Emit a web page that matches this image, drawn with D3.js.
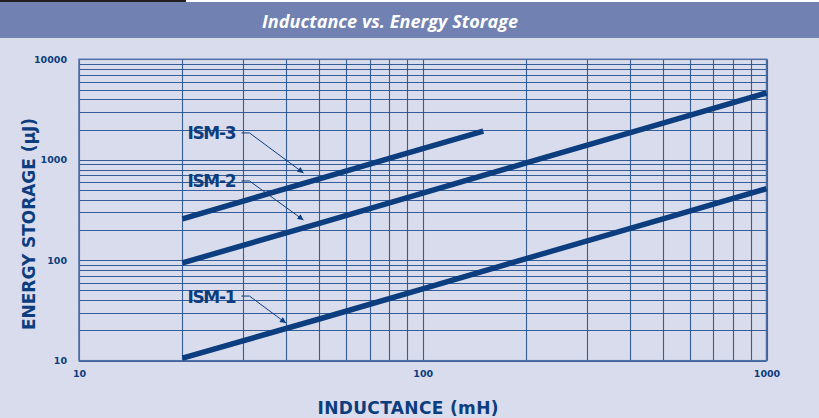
<!DOCTYPE html>
<html><head><meta charset="utf-8">
<script src="https://cdn.jsdelivr.net/npm/d3@7"></script>
<style>html,body{margin:0;padding:0;background:#d9dcec;}svg{display:block;}</style>
</head><body>
<svg id="chart" width="819" height="418"></svg>
<script>
const title = "Inductance vs. Energy Storage";
const xTitle = "INDUCTANCE (mH)";
const yTitle = "ENERGY STORAGE (\u03bcJ)";
const xTicks = [10, 100, 1000];
const yTicks = [10, 100, 1000, 10000];
const seriesNames = ["ISM-1", "ISM-2", "ISM-3"];
const ism1 = [[20, 10.6], [50, 26], [100, 52], [200, 104], [500, 258], [1000, 515]];
const ism2 = [[20, 94], [50, 233], [100, 465], [200, 930], [500, 2320], [1000, 4620]];
const ism3 = [[20, 258], [50, 645], [100, 1290], [150, 1930]];
const labelPos = [[20, 44], [20, 615], [20, 1850]]; // label anchor (data coords) per series
const arrowTip = [[40, 23.7], [45, 251], [45, 738]];

const svg = d3.select("#chart");
const W = 819, H = 418;
const navy = "#0c3d7e", grid = "#24508e";

svg.append("rect").attr("width", W).attr("height", H).attr("fill", "#d9dcec");
svg.append("rect").attr("x", 0).attr("y", 0).attr("width", W).attr("height", 2).attr("fill", "#ffffff");
svg.append("rect").attr("x", 0).attr("y", 0).attr("width", 186).attr("height", 2).attr("fill", "#231f20");
svg.append("rect").attr("x", 0).attr("y", 2).attr("width", W).attr("height", 36).attr("fill", "#7182b2");
svg.append("text").attr("x", 390).attr("y", 28).attr("text-anchor", "middle")
  .attr("fill", "#ffffff").attr("font-family", "Open Sans, DejaVu Sans, sans-serif")
  .attr("font-weight", "bold").attr("font-style", "italic").attr("font-size", 18)
  .attr("textLength", 256).text(title);

const x = d3.scaleLog().domain([10, 1000]).range([79, 766.5]);
const y = d3.scaleLog().domain([10, 10000]).range([360.7, 59.3]);

const g = svg.append("g");
// grid
const xGrid = [], yGrid = [];
for (let d = 10; d < 1000; d *= 10) for (let k = 1; k <= 10; k++) xGrid.push(d * k);
for (let d = 10; d < 10000; d *= 10) for (let k = 1; k <= 10; k++) yGrid.push(d * k);
const xg = Array.from(new Set(xGrid));
const yg = Array.from(new Set(yGrid));
g.selectAll(".hg").data(yg).join("line")
  .attr("x1", x(10)).attr("x2", x(1000))
  .attr("y1", d => Math.round(y(d)) + 0.5).attr("y2", d => Math.round(y(d)) + 0.5)
  .attr("stroke", grid).attr("stroke-width", 1.1).attr("opacity", 0.9);
g.selectAll(".vg").data(xg).join("line")
  .attr("y1", y(10)).attr("y2", y(10000))
  .attr("x1", d => Math.round(x(d)) + 0.5).attr("x2", d => Math.round(x(d)) + 0.5)
  .attr("stroke", grid).attr("stroke-width", 1.1).attr("opacity", 0.9);
g.append("rect").attr("x", x(10)).attr("y", y(10000)).attr("width", x(1000) - x(10))
  .attr("height", y(10) - y(10000)).attr("fill", "none").attr("stroke", "#4d6fa6").attr("stroke-width", 1.5);

// axes tick labels
const yAxis = d3.axisLeft(y).tickValues(yTicks).tickFormat(d3.format("d")).tickSize(0).tickPadding(12);
const ya = svg.append("g").attr("transform", `translate(${x(10)},0)`).call(yAxis);
ya.select(".domain").remove();
ya.selectAll("text").attr("fill", navy).attr("font-family", "DejaVu Sans, sans-serif")
  .attr("font-weight", "bold").attr("font-size", 9.5);
const xAxis = d3.axisBottom(x).tickValues(xTicks).tickFormat(d3.format("d")).tickSize(0).tickPadding(10);
const xa = svg.append("g").attr("transform", `translate(0,${y(10)})`).call(xAxis);
xa.select(".domain").remove();
xa.selectAll("text").attr("fill", navy).attr("font-family", "DejaVu Sans, sans-serif")
  .attr("font-weight", "bold").attr("font-size", 9.5);

// axis titles
svg.append("text").attr("x", 408).attr("y", 414).attr("text-anchor", "middle")
  .attr("fill", navy).attr("font-family", "DejaVu Sans, sans-serif").attr("font-weight", "bold")
  .attr("font-size", 17).attr("textLength", 181).text(xTitle);
svg.append("text").attr("transform", "translate(35,224) rotate(-90)").attr("text-anchor", "middle")
  .attr("fill", navy).attr("font-family", "DejaVu Sans, sans-serif").attr("font-weight", "bold")
  .attr("font-size", 17).attr("textLength", 212).text(yTitle);

// series
const line = d3.line().x(d => x(d[0])).y(d => y(d[1]));
[ism1, ism2, ism3].forEach(s => {
  svg.append("path").attr("d", line(s)).attr("fill", "none").attr("stroke", navy)
    .attr("stroke-width", 5.5).attr("stroke-linecap", "butt");
});

// labels with leaders
svg.append("defs").append("marker").attr("id", "ah").attr("viewBox", "0 0 10 10")
  .attr("refX", 10).attr("refY", 5).attr("markerWidth", 9).attr("markerHeight", 6)
  .attr("markerUnits", "userSpaceOnUse").attr("orient", "auto")
  .append("path").attr("d", "M0,0 L10,5 L0,10 Z").attr("fill", navy);
seriesNames.forEach((nm, i) => {
  const lx = x(labelPos[i][0]) + 5, ly = y(labelPos[i][1]);
  svg.append("text").attr("x", lx).attr("y", ly + 6.5).attr("fill", navy)
    .attr("font-family", "DejaVu Sans, sans-serif").attr("font-weight", "bold")
    .attr("font-size", 17).attr("textLength", 49).text(nm);
  const sx = lx + 54, tx = x(arrowTip[i][0]), ty = y(arrowTip[i][1]);
  svg.append("path").attr("d", `M${sx},${ly} L${sx + 8},${ly} L${tx},${ty}`)
    .attr("fill", "none").attr("stroke", navy).attr("stroke-width", 1)
    .attr("marker-end", "url(#ah)");
});
</script>
</body></html>
